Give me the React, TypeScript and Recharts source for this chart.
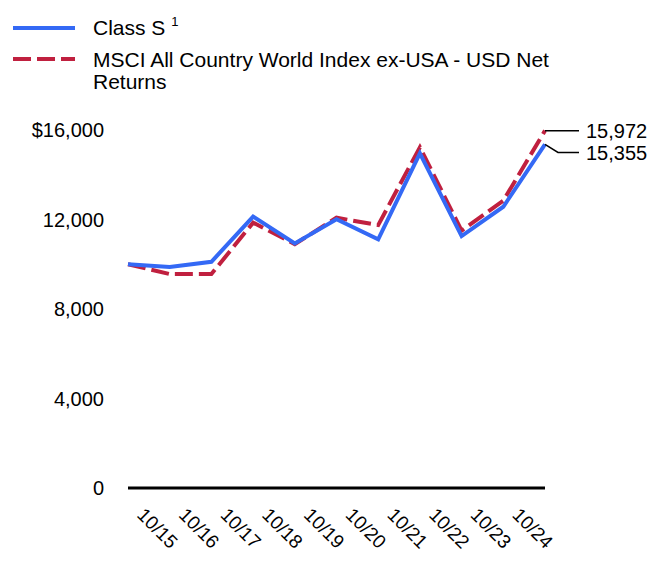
import React from 'react';
import { LineChart, Line, XAxis, YAxis, Legend, LabelList } from 'recharts';

const tickLabels = ['10/15', '10/16', '10/17', '10/18', '10/19', '10/20', '10/21', '10/22', '10/23', '10/24', ''];
const classS = [10000, 9880, 10110, 12130, 10930, 12010, 11110, 14960, 11260, 12570, 15355];
const msci = [10000, 9560, 9560, 11860, 10900, 12080, 11750, 15230, 11500, 12840, 15972];
const yTicks = [0, 4000, 8000, 12000, 16000];
const yTickLabels = ['0', '4,000', '8,000', '12,000', '$16,000'];
const seriesNames = ['Class S', 'MSCI All Country World Index ex-USA - USD Net Returns'];

const BLUE = '#3469f5';
const RED = '#c0203f';
const FONT = '"Liberation Sans", Arial, Helvetica, sans-serif';

const data = classS.map((v, i) => ({ key: String(i), classS: v, msci: msci[i] }));
const n = data.length;

const XTick = (props: any) => {
  const { x, y, payload } = props;
  const label = tickLabels[Number(payload.value)] || '';
  if (!label) return null;
  return (
    <g transform={`translate(${x + 8},${y + 20})`}>
      <text transform="rotate(45)" textAnchor="start" fontSize={19} fill="#000" fontFamily={FONT}>
        {label}
      </text>
    </g>
  );
};

const YTick = (props: any) => {
  const { x, y, payload } = props;
  const idx = yTicks.indexOf(payload.value);
  return (
    <text x={x - 16} y={y} dy="0.36em" textAnchor="end" fontSize={20} fill="#000" fontFamily={FONT}>
      {idx >= 0 ? yTickLabels[idx] : payload.value}
    </text>
  );
};

const fmt = (v: number) => v.toLocaleString('en-US');

const makeEndLabel = (series: number[], bend: number) => (props: any) => {
  const { x, y, index, value } = props;
  const last = series[series.length - 1];
  const isLast = index === n - 1 || (index === undefined && value === last);
  if (!isLast) return null;
  const path = bend
    ? `M${x},${y} L${x + 13},${y + bend} L${x + 34},${y + bend}`
    : `M${x},${y} L${x + 34},${y}`;
  return (
    <g>
      <path d={path} stroke="#000" strokeWidth={1.5} fill="none" />
      <text x={x + 41} y={y + bend} dy="0.36em" fontSize={20} fill="#000" fontFamily={FONT}>
        {fmt(last)}
      </text>
    </g>
  );
};

const LegendContent = () => (
  <svg width={672} height={100} style={{ display: 'block' }}>
    <line x1={13} x2={75} y1={28} y2={28} stroke={BLUE} strokeWidth={4} />
    <text x={93} y={35} fontSize={21} fill="#000" fontFamily={FONT}>
      {seriesNames[0] + ' '}
      <tspan fontSize={13} dy={-9}>1</tspan>
    </text>
    <line x1={13} x2={75} y1={59} y2={59} stroke={RED} strokeWidth={4} strokeDasharray="18 6" />
    <text x={93} y={67} fontSize={21} fill="#000" fontFamily={FONT}>
      MSCI All Country World Index ex-USA - USD Net
    </text>
    <text x={93} y={89} fontSize={21} fill="#000" fontFamily={FONT}>
      Returns
    </text>
  </svg>
);

export default function App() {
  return (
    <div style={{ position: 'absolute', left: 0, top: 0, width: 672, height: 588, background: '#fff' }}>
      <LineChart
        width={672}
        height={588}
        data={data}
        margin={{ top: 130, right: 127, bottom: 0, left: 68 }}
        style={{ fontFamily: FONT }}
      >
        <Legend
          layout="vertical"
          verticalAlign="middle"
          align="center"
          wrapperStyle={{ position: 'absolute', left: 0, top: 0, width: 672, height: 100 }}
          content={<LegendContent />}
        />
        <XAxis
          dataKey="key"
          interval={0}
          tickLine={false}
          axisLine={{ stroke: '#000', strokeWidth: 3 }}
          tick={<XTick />}
          height={100}
        />
        <YAxis
          domain={[0, 16000]}
          ticks={yTicks}
          axisLine={false}
          tickLine={false}
          width={60}
          tick={<YTick />}
        />
        <Line
          type="linear"
          dataKey="msci"
          name={seriesNames[1]}
          stroke={RED}
          strokeWidth={4}
          strokeDasharray="18 6"
          dot={false}
          isAnimationActive={false}
        >
          <LabelList dataKey="msci" content={makeEndLabel(msci, 0)} />
        </Line>
        <Line
          type="linear"
          dataKey="classS"
          name={seriesNames[0]}
          stroke={BLUE}
          strokeWidth={4}
          dot={false}
          isAnimationActive={false}
        >
          <LabelList dataKey="classS" content={makeEndLabel(classS, 8)} />
        </Line>
      </LineChart>
    </div>
  );
}
